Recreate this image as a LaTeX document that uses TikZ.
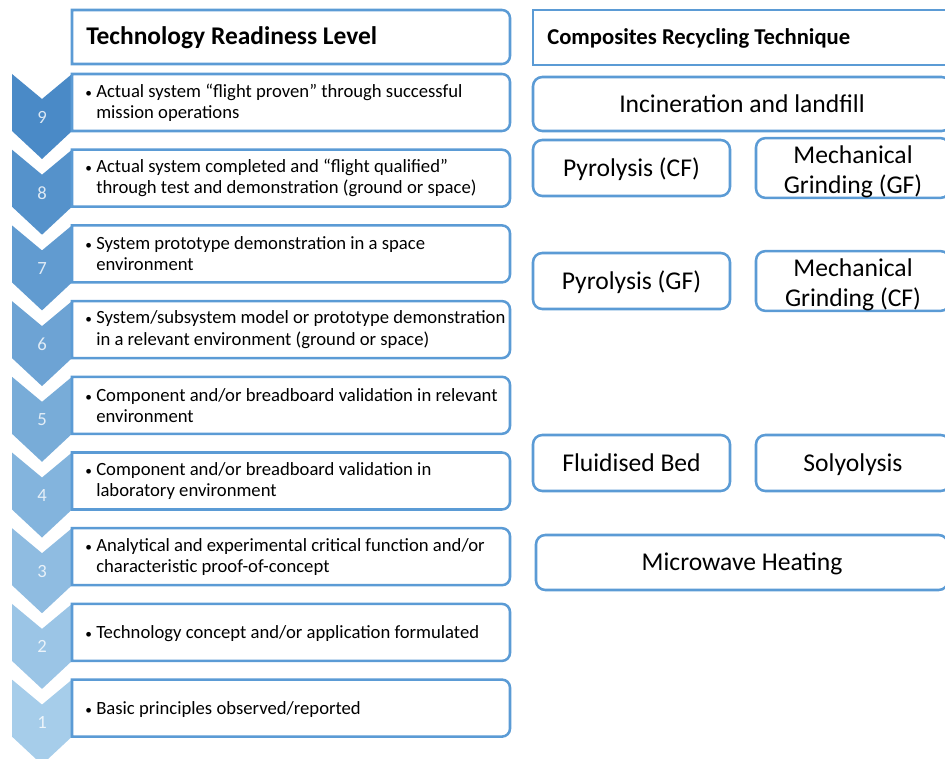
\documentclass[tikz,border=0pt]{standalone}
\usepackage{fontspec}
\setmainfont{Carlito}
\definecolor{bcol}{RGB}{91,155,213}
\definecolor{chevD}{RGB}{74,138,199}
\definecolor{chevL}{RGB}{166,205,234}
\def\rr{6pt}
\newcommand\rrbox[1]{\draw[bline] (#1.north west) -- ([xshift=-\rr]#1.north east) arc[start angle=90,end angle=0,radius=\rr] -- ([yshift=\rr]#1.south east) arc[start angle=0,end angle=-90,radius=\rr] -- (#1.south west) -- cycle;}
\newcommand\trl[4]{%
  \pgfmathsetmacro\ttop{74+75.7*#1}%
  \fill[chevL!#4!chevD] (12,\ttop) -- (42,\ttop+25) -- (72,\ttop) -- (72,\ttop+57) -- (42,\ttop+85) -- (12,\ttop+57) -- cycle;
  \node[num] (n#2) at (42,\ttop+43) {#2};
  \node[lvl] (b#2) at (291,\ttop+28.5) {};
  \rrbox{b#2}
  \node[lvltext] (t#2) at (85,\ttop+28.5) {#3};
}
\newcommand\bul{\makebox[8.25pt][l]{\fontsize{10}{10}\selectfont•}}
\newcommand\ind{\hspace*{8.25pt}}
\newcommand\vs{\rule[-5pt]{0pt}{22.4pt}}
\newcommand\vsl{\rule[-4pt]{0pt}{17.4pt}}
\begin{document}
\begin{tikzpicture}[x=0.75pt,y=-0.75pt,
  bline/.style={draw=bcol,line width=1.9pt,fill=white},
  lvl/.style={inner sep=0pt,outer sep=0pt,minimum width=328.5pt,minimum height=42.75pt},
  lvltext/.style={anchor=west,align=left,inner sep=0pt,font=\fontsize{14}{15.8}\selectfont},
  num/.style={text=white,opacity=0.8,font=\fontsize{14}{16}\selectfont,inner sep=0pt},
  rbox/.style={draw=bcol,line width=1.9pt,fill=white,rounded corners=7pt,inner sep=0pt,align=center,font=\fontsize{19.2}{22.5}\selectfont},
  head/.style={anchor=west,inner sep=0pt,font=\bfseries\fontsize{#1}{#1}\selectfont}
]
\useasboundingbox (0,0) rectangle (945,759);
% headers
\node[lvl,minimum height=40.5pt] (hl) at (291,37) {};
\rrbox{hl}
\node[head=19.1] (hlt) at (86,38) {Technology Readiness Level};
\node[draw=bcol,line width=1.9pt,inner sep=0pt,minimum width=320pt,minimum height=41.25pt] (hr) at (746.5,37.5) {};
\node[head=17] (hrt) at (547,38) {Composites Recycling Technique};
% levels
\trl{0}{9}{\bul Actual system “flight proven” through successful\\\ind mission operations}{0}
\trl{1}{8}{\bul Actual system completed and “flight qualified”\\\ind through test and demonstration (ground or space)}{12}
\trl{2}{7}{\bul System prototype demonstration in a space\\\ind environment}{25}
\trl{3}{6}{\bul System/subsystem model or prototype demonstration\\\ind in a relevant environment (ground or space)}{38}
\trl{4}{5}{\bul Component and/or breadboard validation in relevant\\\ind environment}{50}
\trl{5}{4}{\bul Component and/or breadboard validation in\\\ind laboratory environment}{62}
\trl{6}{3}{\bul Analytical and experimental critical function and/or\\\ind characteristic proof-of-concept}{75}
\trl{7}{2}{\vsl\bul Technology concept and/or application formulated}{88}
\trl{8}{1}{\vsl\bul Basic principles observed/reported}{100}
% recycling techniques
\node[rbox,minimum width=313.5pt,minimum height=40.5pt] (inc) at (742,104) {\vs Incineration and landfill};
\node[rbox,minimum width=147.75pt,minimum height=42pt] (pcf) at (631.5,168) {\vs Pyrolysis (CF)};
\node[rbox,minimum width=145.5pt,minimum height=42pt] (mgg) at (853,168) {\rule{0pt}{19pt}Mechanical\\Grinding (GF)};
\node[rbox,minimum width=147.75pt,minimum height=42pt] (pgf) at (631.5,281) {\vs Pyrolysis (GF)};
\node[rbox,minimum width=145.5pt,minimum height=42pt] (mgc) at (853,281) {\rule{0pt}{19pt}Mechanical\\Grinding (CF)};
\node[rbox,minimum width=147.75pt,minimum height=42pt] (fb) at (631.5,463) {\vs Fluidised Bed};
\node[rbox,minimum width=145.5pt,minimum height=42pt] (sol) at (853,463) {\vs Solyolysis};
\node[rbox,minimum width=309pt,minimum height=41.25pt] (mw) at (742,562.5) {\vs Microwave Heating};
\end{tikzpicture}
\end{document}
